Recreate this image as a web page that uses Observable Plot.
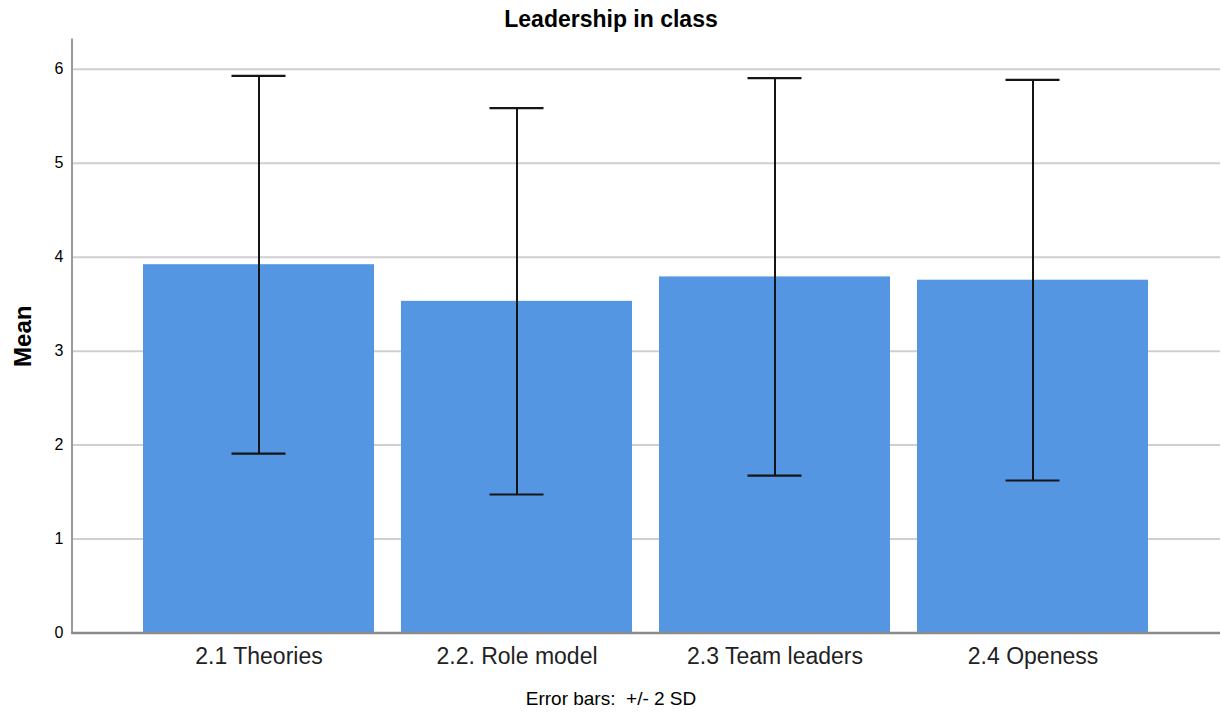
<!DOCTYPE html>
<html>
<head>
<meta charset="utf-8">
<script src="https://cdn.jsdelivr.net/npm/d3@7"></script>
<script src="https://cdn.jsdelivr.net/npm/@observablehq/plot@0.6"></script>
<style>
  html, body { margin: 0; padding: 0; background: #fff; }
  body { width: 1222px; height: 712px; font-family: "Liberation Sans", Arial, sans-serif; color: #000; }
  #title { height: 38px; line-height: 38px; text-align: center; font-size: 23px; font-weight: bold; }
  #chart svg { display: block; }
  #caption { margin-top: 7px; height: 24px; line-height: 24px; text-align: center; font-size: 19px; }
</style>
</head>
<body>
<div id="title">Leadership in class</div>
<div id="chart"></div>
<div id="caption">Error bars:&nbsp; +/- 2 SD</div>
<script>
const categories = ["2.1 Theories", "2.2. Role model", "2.3 Team leaders", "2.4 Openess"];
const means = [3.92, 3.53, 3.79, 3.755];
const sds = [1.005, 1.028, 1.058, 1.066];
const yTicks = [0, 1, 2, 3, 4, 5, 6];

const data = categories.map((c, i) => ({
  cat: c,
  mean: means[i],
  lo: means[i] - 2 * sds[i],
  hi: means[i] + 2 * sds[i]
}));

const chart = Plot.plot({
  width: 1222,
  height: 642,
  marginTop: 1,
  marginBottom: 47.5,
  marginLeft: 71.5,
  marginRight: 2,
  style: { fontFamily: "'Liberation Sans', Arial, sans-serif", color: "#000", background: "#fff" },
  x: { domain: categories, paddingInner: 0.104, paddingOuter: 0.271, label: null },
  y: { domain: [0, 6.317], label: null },
  marks: [
    Plot.gridY(yTicks, { stroke: "#cfcfcf", strokeOpacity: 1, strokeWidth: 2 }),
    Plot.barY(data, { x: "cat", y: "mean", fill: "#5596e3" }),
    Plot.ruleX(data, { x: "cat", y1: "lo", y2: "hi", stroke: "#151515", strokeWidth: 2 }),
    Plot.tickY(data, { x: "cat", y: "lo", stroke: "#151515", strokeWidth: 2.2, insetLeft: 88.5, insetRight: 88.5 }),
    Plot.tickY(data, { x: "cat", y: "hi", stroke: "#151515", strokeWidth: 2.2, insetLeft: 88.5, insetRight: 88.5 }),
    Plot.frame({ anchor: "left", stroke: "#999", strokeWidth: 2 }),
    Plot.ruleY([0], { stroke: "#8a8a8a", strokeWidth: 2.5 }),
    Plot.axisY(yTicks, { tickSize: 0, tickPadding: 8.5, fontSize: 16, label: null, tickFormat: d => String(d) }),
    Plot.axisY({ ticks: [], label: "Mean", labelAnchor: "center", labelArrow: "none", labelOffset: 58, fontSize: 24, fontWeight: "bold" }),
    Plot.axisX({ tickSize: 0, tickPadding: 14.5, fontSize: 23, label: null, fill: "#222" })
  ]
});
document.getElementById("chart").appendChild(chart);
</script>
</body>
</html>
